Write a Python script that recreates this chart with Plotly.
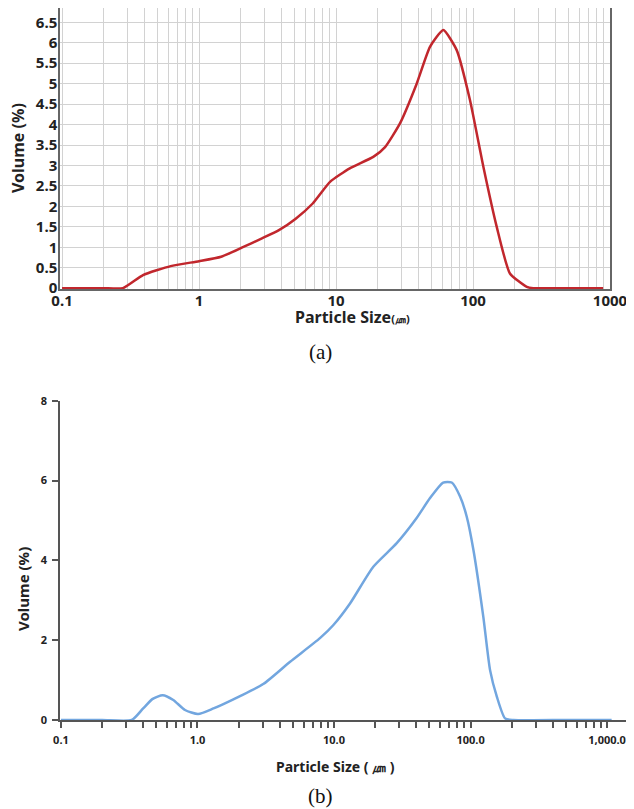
import plotly.graph_objects as go

# ---- data (a) ----
size_a = [0.1, 0.2, 0.278, 0.39, 0.62, 1.0, 1.45, 2.05, 2.88, 3.83, 5.08, 6.76, 9.04, 12.6, 18.7,
          22.8, 29.3, 38.8, 48.5, 60.7, 76.0, 95.0, 119, 149, 186, 247, 275, 500, 891]
vol_a = [0, 0, 0, 0.32, 0.54, 0.66, 0.77, 0.99, 1.22, 1.42, 1.70, 2.07, 2.60, 2.93, 3.21,
         3.45, 4.03, 5.00, 5.90, 6.31, 5.82, 4.60, 2.97, 1.50, 0.36, 0.03, 0, 0, 0]

# ---- data (b) ----
size_b = [0.1, 0.2, 0.33, 0.40, 0.47, 0.556, 0.665, 0.81, 1.01, 1.31, 2.05, 3.03, 4.77, 7.89,
          9.9, 13.1, 19.4, 28.8, 40.3, 50.5, 63, 72.8, 83.8, 93.7, 105, 124, 139, 156, 179,
          206, 500, 1080]
vol_b = [0, 0, 0, 0.29, 0.53, 0.62, 0.50, 0.25, 0.15, 0.29, 0.60, 0.90, 1.46, 2.05,
         2.38, 2.92, 3.84, 4.43, 5.06, 5.56, 5.95, 5.95, 5.60, 5.10, 4.26, 2.59, 1.25, 0.58, 0.04,
         0, 0, 0]

major_ticks = [0.1, 1, 10, 100, 1000]
labels_a = ["0.1", "1", "10", "100", "1000"]
labels_b = ["0.1", "1.0", "10.0", "100.0", "1,000.0"]

# page body has an 8px default margin: figure occupies (8,8) .. (634,809)
OFF = 8
W, H = 634 - OFF, 809 - OFF
def px_x(p):
    return (p - OFF) / W
def px_y(p):
    return min(1.0, max(0.0, 1 - (p - OFF) / H))

# all 1..9 multiples per decade for grid / minor ticks
grid_vals = []
grid_text_a = []
grid_text_b = []
for d, (la, lb) in zip(major_ticks[:-1], zip(labels_a[:-1], labels_b[:-1])):
    for m in range(1, 10):
        grid_vals.append(d * m)
        grid_text_a.append(la if m == 1 else "")
        grid_text_b.append(lb if m == 1 else "")
grid_vals.append(1000)
grid_text_a.append(labels_a[-1])
grid_text_b.append(labels_b[-1])

FONT = "Noto Sans"
fig = go.Figure()
fig.add_trace(go.Scatter(x=size_a, y=vol_a, mode="lines", xaxis="x", yaxis="y",
                         line=dict(color="#c1272d", width=2.5, shape="spline", smoothing=0.5),
                         showlegend=False))
fig.add_trace(go.Scatter(x=size_b, y=vol_b, mode="lines", xaxis="x2", yaxis="y2",
                         line=dict(color="#72a6df", width=2.5, shape="spline", smoothing=0.6),
                         showlegend=False))

fig.update_layout(
    width=W, height=H, margin=dict(l=0, r=0, t=0, b=0, autoexpand=False),
    paper_bgcolor="white", plot_bgcolor="white",
    font=dict(family=FONT, color="#222"),
    xaxis=dict(type="log", range=[-1.015, 3.0], domain=[px_x(60), px_x(610)],
               tickvals=grid_vals, ticktext=grid_text_a, showgrid=True, automargin=False,
               gridcolor="#d2d2d2", gridwidth=1, showline=True, linecolor="#666",
               linewidth=1.5, mirror=True, ticks="", zeroline=False,
               tickfont=dict(size=15, weight="bold", color="#222"), anchor="y"),
    yaxis=dict(range=[-0.02, 6.85], domain=[px_y(289), 1.0], dtick=0.5, tick0=0,
               showgrid=True, gridcolor="#d2d2d2", gridwidth=1, showline=True, automargin=False,
               linecolor="#666", linewidth=1.5, mirror=True, ticks="", zeroline=False,
               tickfont=dict(size=15, weight="bold", color="#222"), anchor="x"),
    xaxis2=dict(type="log", range=[-1.007, 3.168], domain=[px_x(60), px_x(630)],
                tickvals=grid_vals, ticktext=grid_text_b, showgrid=False, automargin=False,
                showline=True, linecolor="#555", linewidth=1.5, ticks="outside",
                ticklen=6, tickcolor="#555", tickwidth=1.5, zeroline=False,
                tickfont=dict(size=11, weight="bold", color="#222"), anchor="y2",
                ticklabelstandoff=3),
    yaxis2=dict(range=[0, 8], domain=[px_y(720), px_y(400.7)], dtick=2, tick0=0,
                showgrid=False, showline=True, linecolor="#555", linewidth=1.5, automargin=False,
                ticks="outside", ticklen=6, tickcolor="#555", tickwidth=1.5,
                zeroline=False, tickfont=dict(size=11, weight="bold", color="#222"),
                anchor="x2", ticklabelstandoff=3),
)

# pull the top chart's tick labels closer to the frame, if allowed
try:
    fig.update_layout(xaxis_ticklabelstandoff=-3, yaxis_ticklabelstandoff=-2)
except Exception:
    pass

ann = [
    dict(text="Volume (%)", x=px_x(18), y=px_y(148), textangle=-90,
         font=dict(size=16, weight="bold", color="#222")),
    dict(text="Particle Size<span style='font-size:11px'>(㎛)</span>", x=px_x(352), y=px_y(317),
         font=dict(size=16, weight="bold", color="#222")),
    dict(text="(a)", x=px_x(320), y=px_y(352),
         font=dict(size=21, family="Liberation Serif", color="#111")),
    dict(text="Volume (%)", x=px_x(23), y=px_y(589), textangle=-90,
         font=dict(size=15, weight="bold", color="#222")),
    dict(text="Particle Size ( ㎛ )", x=px_x(335), y=px_y(766),
         font=dict(size=14, weight="bold", color="#222")),
    dict(text="(b)", x=px_x(320), y=px_y(796),
         font=dict(size=21, family="Liberation Serif", color="#111")),
]
for a in ann:
    fig.add_annotation(xref="paper", yref="paper", showarrow=False,
                       xanchor="center", yanchor="middle", **a)

fig.write_html("out.html")
